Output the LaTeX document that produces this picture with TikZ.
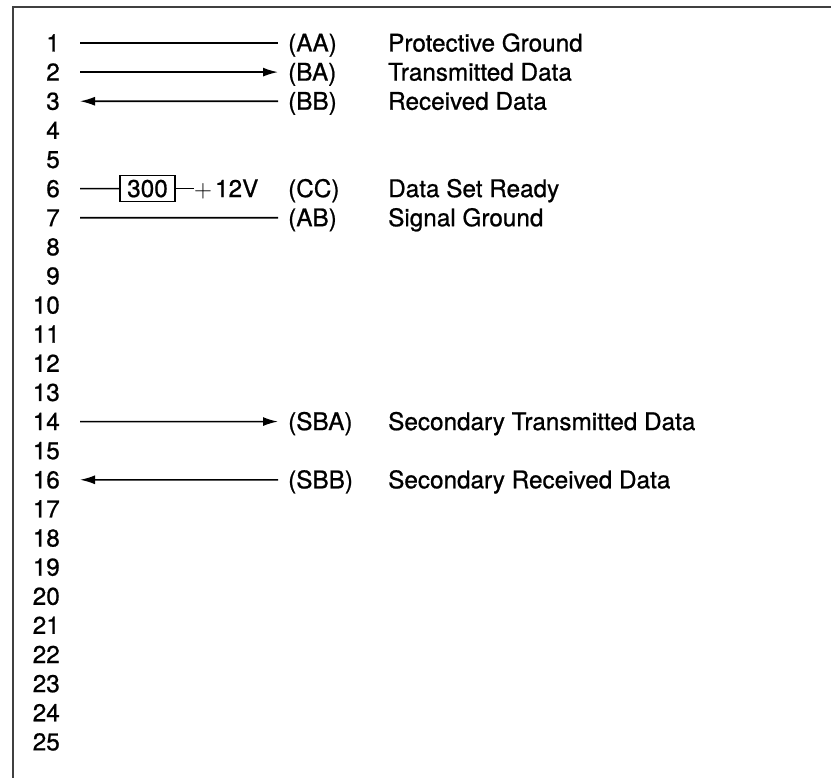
\documentclass[tikz,border=0pt]{standalone}
\usepackage{fontspec}
\setmainfont{TeX Gyre Heros}
\newfontfamily\labfont{TeX Gyre Heros}[FakeBold=0.8]
\usetikzlibrary{arrows.meta}
\begin{document}
\begin{tikzpicture}[x=1pt,y=-1pt,
  txt/.style={font=\labfont\fontsize{24.3}{28}\selectfont, text height=17pt, text depth=0pt, inner ysep=0pt},
  num/.style={txt, anchor=east, inner xsep=20pt},
  code/.style={txt, anchor=west, inner xsep=10pt},
  desc/.style={txt, anchor=west, inner xsep=0pt},
  wire/.style={line width=1.6pt},
  arr/.style={wire, -{Latex[length=15pt,width=9pt]}},
  resbox/.style={draw, line width=1.5pt, minimum width=55pt, minimum height=26pt, inner sep=0pt, font=\labfont\fontsize{24.3}{28}\selectfont},
  frame/.style={line width=2pt, black!75}]
\useasboundingbox (0,0) rectangle (831,778);
\draw[frame] (13,778) -- (13,7) -- (831,7);
% pin numbers
\foreach \i in {1,...,25} {
  \node[num] (n\i) at (80, {43+(\i-1)*29.12}) {\i};
}
% codes
\node[code] (aa)  at (278, 43.00) {(AA)};
\node[code] (ba)  at (278, 72.12) {(BA)};
\node[code] (bb)  at (278, 101.24) {(BB)};
\node[code] (cc)  at (278, 188.60) {(CC)};
\node[code] (ab)  at (278, 217.72) {(AB)};
\node[code] (sba) at (278, 421.56) {(SBA)};
\node[code] (sbb) at (278, 479.80) {(SBB)};
% descriptions
\node[desc] (d1)  at (388, 43.00) {Protective Ground};
\node[desc] (d2)  at (388, 72.12) {Transmitted Data};
\node[desc] (d3)  at (388, 101.24) {Received Data};
\node[desc] (d6)  at (388, 188.60) {Data Set Ready};
\node[desc] (d7)  at (388, 217.72) {Signal Ground};
\node[desc] (d14) at (388, 421.56) {Secondary Transmitted Data};
\node[desc] (d16) at (388, 479.80) {Secondary Received Data};
% connectors
\draw[wire] (n1.east) -- (aa.west);
\draw[arr] (n2.east) -- (ba.west);
\draw[arr] (bb.west) -- (n3.east);
\draw[wire] (n7.east) -- (ab.west);
\draw[arr] (n14.east) -- (sba.west);
\draw[arr] (sbb.west) -- (n16.east);
% pin 6 resistor
\node[resbox] (r) at (147.5, 188.6) {300};
\node[txt, anchor=west, inner xsep=0pt] (v) at (194, 188.6) {$+$\hspace{3pt}12V};
\draw[wire] (n6.east) -- (r.west);
\draw[wire] (r.east) -- (v.west);
\end{tikzpicture}
\end{document}
